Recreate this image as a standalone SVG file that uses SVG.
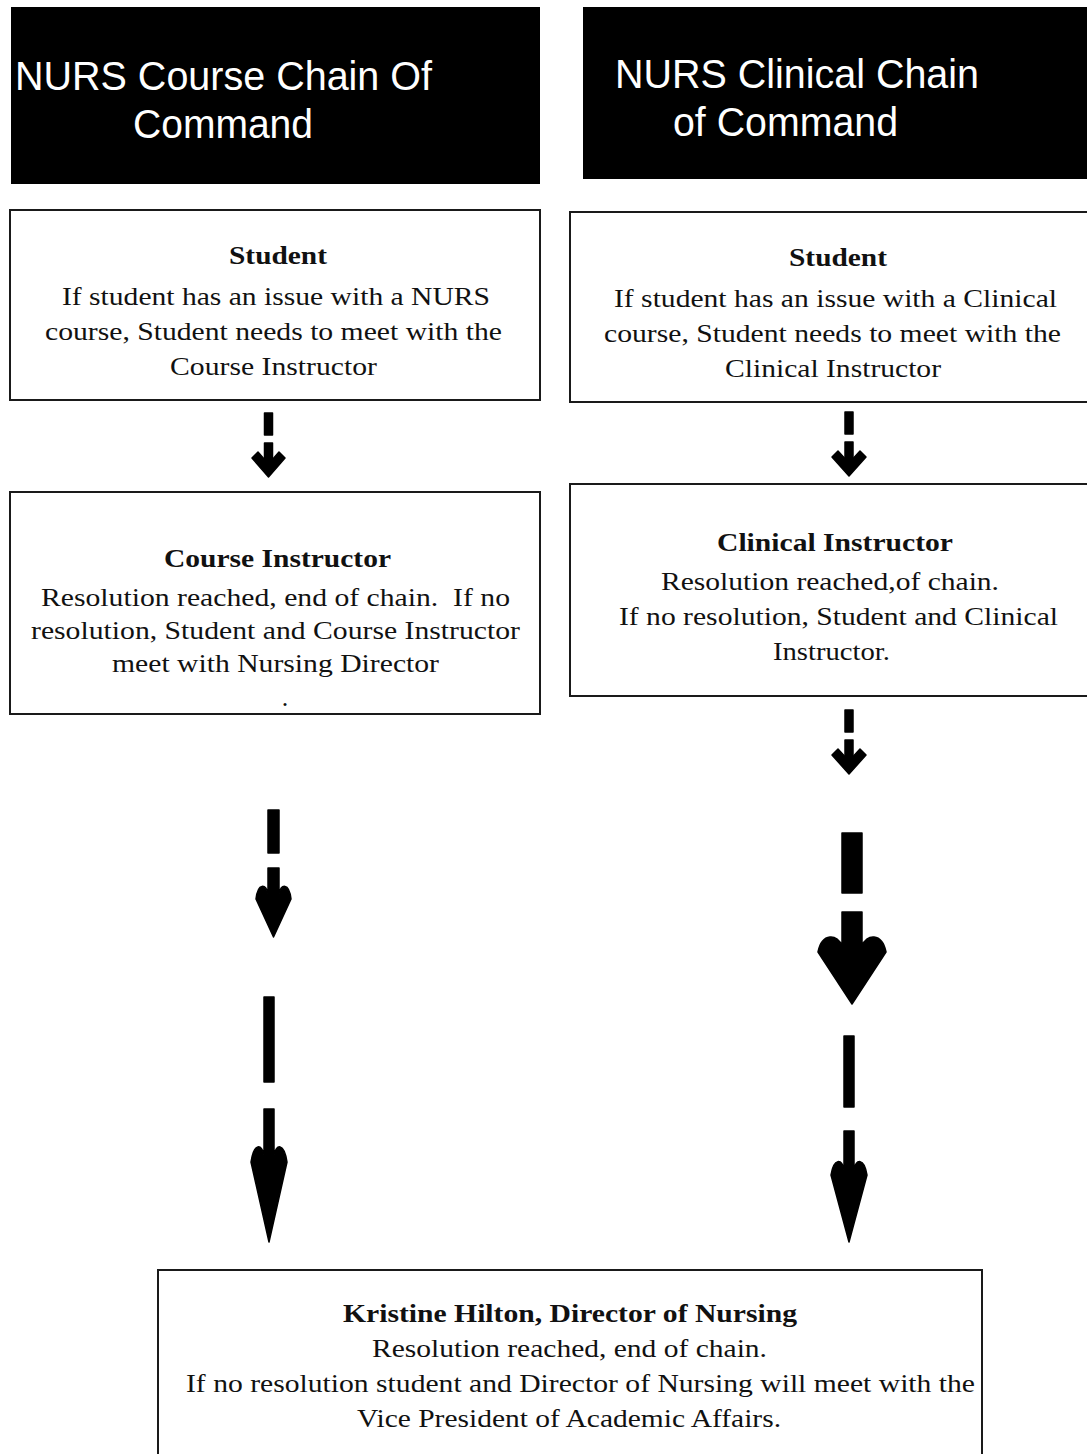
<svg xmlns="http://www.w3.org/2000/svg" width="1087" height="1454" viewBox="0 0 1087 1454">
<style>
.hdr{fill:#000}
.ht{font-family:'Liberation Sans',Arimo,Arial,Helvetica,sans-serif;font-size:40px;fill:#fff}
.box{fill:#fff;stroke:#1a1a1a;stroke-width:2}
.t{font-family:'Liberation Serif',Tinos,'Times New Roman',Times,'Nimbus Roman','Nimbus Roman No9 L',FreeSerif,serif;font-size:26px;fill:#111;text-anchor:middle}
.b{font-weight:bold}
.ar{fill:#000;stroke:#000;stroke-width:1.5;stroke-linejoin:round}
</style>
<rect width="1087" height="1454" fill="#fff"/>
<g id="header-course">
<rect class="hdr" x="11" y="7" width="529" height="177"/>
<text class="ht" x="15" y="90" textLength="417" lengthAdjust="spacingAndGlyphs">NURS Course Chain Of</text>
<text class="ht" x="133" y="138" textLength="180" lengthAdjust="spacingAndGlyphs">Command</text>
</g>
<g id="header-clinical">
<rect class="hdr" x="583" y="7" width="510" height="172"/>
<text class="ht" x="615" y="88" textLength="364" lengthAdjust="spacingAndGlyphs">NURS Clinical Chain</text>
<text class="ht" x="673" y="136" textLength="225" lengthAdjust="spacingAndGlyphs">of Command</text>
</g>
<g id="student-course">
<rect class="box" x="10" y="210" width="530" height="190"/>
<text class="t b" x="278" y="264" textLength="98" lengthAdjust="spacingAndGlyphs">Student</text>
<text class="t" x="276" y="305" textLength="428" lengthAdjust="spacingAndGlyphs">If student has an issue with a NURS</text>
<text class="t" x="273.5" y="340" textLength="457" lengthAdjust="spacingAndGlyphs">course, Student needs to meet with the</text>
<text class="t" x="273.5" y="375" textLength="207" lengthAdjust="spacingAndGlyphs">Course Instructor</text>
</g>
<g id="student-clinical">
<rect class="box" x="570" y="212" width="530" height="190"/>
<text class="t b" x="838" y="266" textLength="98" lengthAdjust="spacingAndGlyphs">Student</text>
<text class="t" x="835.5" y="307" textLength="443" lengthAdjust="spacingAndGlyphs">If student has an issue with a Clinical</text>
<text class="t" x="832.5" y="342" textLength="457" lengthAdjust="spacingAndGlyphs">course, Student needs to meet with the</text>
<text class="t" x="833" y="377" textLength="216" lengthAdjust="spacingAndGlyphs">Clinical Instructor</text>
</g>
<g id="course-instructor">
<rect class="box" x="10" y="492" width="530" height="222"/>
<text class="t b" x="277.5" y="567" textLength="227" lengthAdjust="spacingAndGlyphs">Course Instructor</text>
<text class="t" x="275.5" y="606" textLength="469" lengthAdjust="spacingAndGlyphs" xml:space="preserve">Resolution reached, end of chain.  If no</text>
<text class="t" x="275.5" y="639" textLength="489" lengthAdjust="spacingAndGlyphs">resolution, Student and Course Instructor</text>
<text class="t" x="275.5" y="672" textLength="327" lengthAdjust="spacingAndGlyphs">meet with Nursing Director</text>
<text class="t" x="285" y="706">.</text>
</g>
<g id="clinical-instructor">
<rect class="box" x="570" y="484" width="530" height="212"/>
<text class="t b" x="835" y="551" textLength="236" lengthAdjust="spacingAndGlyphs">Clinical Instructor</text>
<text class="t" x="830" y="590" textLength="338" lengthAdjust="spacingAndGlyphs">Resolution reached,of chain.</text>
<text class="t" x="838.5" y="625" textLength="439" lengthAdjust="spacingAndGlyphs">If no resolution, Student and Clinical</text>
<text class="t" x="831.5" y="660" textLength="117" lengthAdjust="spacingAndGlyphs">Instructor.</text>
</g>
<g id="director">
<rect class="box" x="158" y="1270" width="824" height="200"/>
<text class="t b" x="570" y="1322" textLength="454" lengthAdjust="spacingAndGlyphs">Kristine Hilton, Director of Nursing</text>
<text class="t" x="569.5" y="1357" textLength="395" lengthAdjust="spacingAndGlyphs">Resolution reached, end of chain.</text>
<text class="t" x="580.5" y="1392" textLength="789" lengthAdjust="spacingAndGlyphs">If no resolution student and Director of Nursing will meet with the</text>
<text class="t" x="569" y="1427" textLength="424" lengthAdjust="spacingAndGlyphs">Vice President of Academic Affairs.</text>
</g>
<g id="connectors">
<rect class="ar" x="264.5" y="413" width="8" height="22"/>
<rect class="ar" x="264.5" y="443" width="8" height="24"/>
<polygon class="ar" points="252,458 258,452 268.5,464 279,452 285,458 268.5,477"/>
<rect class="ar" x="845" y="412" width="8" height="22"/>
<rect class="ar" x="845" y="442" width="8" height="24"/>
<polygon class="ar" points="832,457 838,451 849,463 860,451 866,457 849,476"/>
<rect class="ar" x="845" y="710" width="8" height="22"/>
<rect class="ar" x="845" y="740" width="8" height="24"/>
<polygon class="ar" points="832,755 838,749 849,761 860,749 866,755 849,774"/>
<rect class="ar" x="268" y="810" width="11" height="43"/>
<path class="ar" d="M268,868 H279 V894 C281,884 289,882 291,899 L273.5,937 L256,899 C258,882 266,884 268,894 Z"/>
<rect class="ar" x="842" y="833" width="20" height="60"/>
<path class="ar" d="M842,912 H862 V946 C866,934 882,932 886,952 L852,1004 L818,952 C822,932 838,934 842,946 Z"/>
<rect class="ar" x="264" y="997" width="10" height="85"/>
<path class="ar" d="M264,1109 H274 V1155 C276,1144 284,1142 287,1162 L269,1242 L251,1162 C254,1142 262,1144 264,1155 Z"/>
<rect class="ar" x="844" y="1036" width="10" height="71"/>
<path class="ar" d="M844,1131 H854 V1170 C856,1159 864,1157 867,1175 L849,1242 L831,1175 C834,1157 842,1159 844,1170 Z"/>
</g>
</svg>
